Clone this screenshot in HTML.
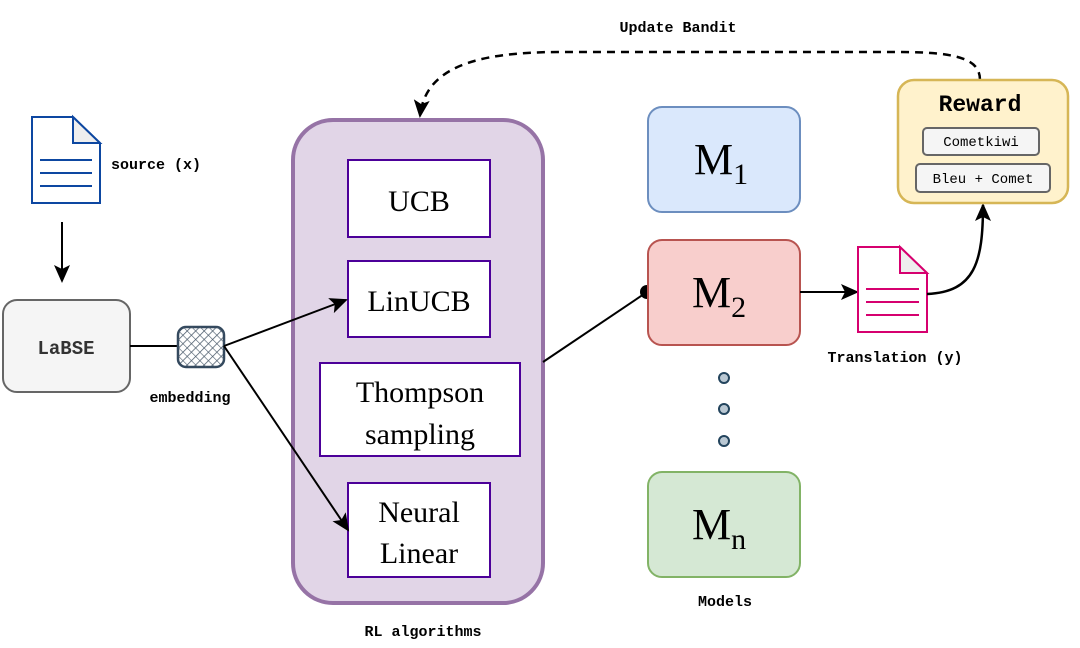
<!DOCTYPE html>
<html><head><meta charset="utf-8"><style>
html,body{margin:0;padding:0;background:#fff;width:1080px;height:648px;overflow:hidden}
svg{display:block}
.mono{font-family:"Liberation Mono",monospace;font-weight:bold}
.serif{font-family:"Liberation Serif",serif}
</style></head><body>
<svg width="1080" height="648" viewBox="0 0 1080 648" xmlns="http://www.w3.org/2000/svg">
<defs>
<marker id="ah" markerWidth="18" markerHeight="16" refX="16" refY="8" orient="auto" markerUnits="userSpaceOnUse" viewBox="0 0 18 16">
<path d="M0,0 L18,8 L0,16 L4,8 Z" fill="#000"/></marker>
<pattern id="hatch" width="6" height="6" patternUnits="userSpaceOnUse" patternTransform="rotate(45)">
<line x1="0" y1="0" x2="0" y2="6" stroke="#4a5a6a" stroke-width="1.5"/></pattern>
<pattern id="hatch2" width="6" height="6" patternUnits="userSpaceOnUse" patternTransform="rotate(-45)">
<line x1="0" y1="0" x2="0" y2="6" stroke="#4a5a6a" stroke-width="1.2"/></pattern>
</defs>

<!-- source doc -->
<path d="M32,117 L73,117 L100,143 L100,203 L32,203 Z" fill="#fff" stroke="#0d47a1" stroke-width="2"/>
<path d="M73,117 L73,143 L100,143 Z" fill="#eee" stroke="#0d47a1" stroke-width="2"/>
<g stroke="#0d47a1" stroke-width="2"><line x1="40" y1="160" x2="92" y2="160"/><line x1="40" y1="173" x2="92" y2="173"/><line x1="40" y1="186" x2="92" y2="186"/></g>
<text x="111" y="169" class="mono" font-size="15">source (x)</text>
<line x1="62" y1="222" x2="62" y2="281" stroke="#000" stroke-width="2" marker-end="url(#ah)"/>

<!-- LaBSE -->
<rect x="3" y="300" width="127" height="92" rx="14" fill="#f5f5f5" stroke="#666" stroke-width="2"/>
<text x="66" y="354" class="mono" font-size="19" fill="#333" text-anchor="middle">LaBSE</text>
<line x1="130" y1="346" x2="178" y2="346" stroke="#000" stroke-width="2"/>
<rect x="178" y="327" width="46" height="40" rx="8" fill="url(#hatch)" stroke="#34495e" stroke-width="2.5"/>
<rect x="178" y="327" width="46" height="40" rx="8" fill="url(#hatch2)"/>
<text x="190" y="402" class="mono" font-size="15" text-anchor="middle">embedding</text>

<!-- RL box -->
<rect x="293" y="120" width="250" height="483" rx="40" fill="#e1d5e7" stroke="#9673a6" stroke-width="4"/>
<g fill="#fff" stroke="#4c0099" stroke-width="2">
<rect x="348" y="160" width="142" height="77"/>
<rect x="348" y="261" width="142" height="76"/>
<rect x="320" y="363" width="200" height="93"/>
<rect x="348" y="483" width="142" height="94"/>
</g>
<g class="serif" font-size="30" text-anchor="middle">
<text x="419" y="211">UCB</text>
<text x="419" y="311">LinUCB</text>
<text x="420" y="402">Thompson</text>
<text x="420" y="444">sampling</text>
<text x="419" y="522">Neural</text>
<text x="419" y="563">Linear</text>
</g>
<text x="423" y="636" class="mono" font-size="15" text-anchor="middle">RL algorithms</text>

<line x1="224" y1="346" x2="346" y2="300" stroke="#000" stroke-width="2" marker-end="url(#ah)"/>
<line x1="224" y1="346" x2="348" y2="530" stroke="#000" stroke-width="2" marker-end="url(#ah)"/>

<!-- dashed update -->
<path d="M980,80 C980,60 960,52 900,52 L560,52 C470,52 425,70 420,116" fill="none" stroke="#000" stroke-width="2.5" stroke-dasharray="8,6" marker-end="url(#ah)"/>
<text x="678" y="32" class="mono" font-size="15" text-anchor="middle">Update Bandit</text>

<!-- connection to M2 -->
<line x1="543" y1="362" x2="647" y2="292" stroke="#000" stroke-width="2"/>
<circle cx="647" cy="292" r="7" fill="#000"/>

<!-- Models -->
<rect x="648" y="107" width="152" height="105" rx="14" fill="#dae8fc" stroke="#6c8ebf" stroke-width="2"/>
<rect x="648" y="240" width="152" height="105" rx="14" fill="#f8cecc" stroke="#b85450" stroke-width="2"/>
<rect x="648" y="472" width="152" height="105" rx="14" fill="#d5e8d4" stroke="#82b366" stroke-width="2"/>
<g class="serif" font-size="44">
<text x="694" y="174">M<tspan font-size="30" dy="10">1</tspan></text>
<text x="692" y="307">M<tspan font-size="30" dy="10">2</tspan></text>
<text x="692" y="539">M<tspan font-size="30" dy="10">n</tspan></text>
</g>
<g fill="#bac8d3" stroke="#23445d" stroke-width="2">
<circle cx="724" cy="378" r="5"/><circle cx="724" cy="409" r="5"/><circle cx="724" cy="441" r="5"/>
</g>
<text x="725" y="606" class="mono" font-size="15" text-anchor="middle">Models</text>

<!-- translation -->
<line x1="800" y1="292" x2="857" y2="292" stroke="#000" stroke-width="2" marker-end="url(#ah)"/>
<path d="M858,247 L900,247 L927,273 L927,332 L858,332 Z" fill="#fff" stroke="#d6006f" stroke-width="2"/>
<path d="M900,247 L900,273 L927,273 Z" fill="#eee" stroke="#d6006f" stroke-width="2"/>
<g stroke="#d6006f" stroke-width="2"><line x1="866" y1="289" x2="919" y2="289"/><line x1="866" y1="302" x2="919" y2="302"/><line x1="866" y1="315" x2="919" y2="315"/></g>
<text x="895" y="362" class="mono" font-size="15" text-anchor="middle">Translation (y)</text>
<path d="M927,294 C975,292 983,262 983,205" fill="none" stroke="#000" stroke-width="2.5" marker-end="url(#ah)"/>

<!-- Reward -->
<rect x="898" y="80" width="170" height="123" rx="16" fill="#fff2cc" stroke="#d6b656" stroke-width="2.5"/>
<text x="980" y="111" class="mono" font-size="23" text-anchor="middle">Reward</text>
<rect x="923" y="128" width="116" height="27" rx="4" fill="#f5f5f5" stroke="#666" stroke-width="2"/>
<rect x="916" y="164" width="134" height="28" rx="4" fill="#f5f5f5" stroke="#666" stroke-width="2"/>
<text x="981" y="146" font-family="Liberation Mono,monospace" font-size="14" text-anchor="middle">Cometkiwi</text>
<text x="983" y="183" font-family="Liberation Mono,monospace" font-size="14" text-anchor="middle">Bleu + Comet</text>
</svg>
</body></html>
